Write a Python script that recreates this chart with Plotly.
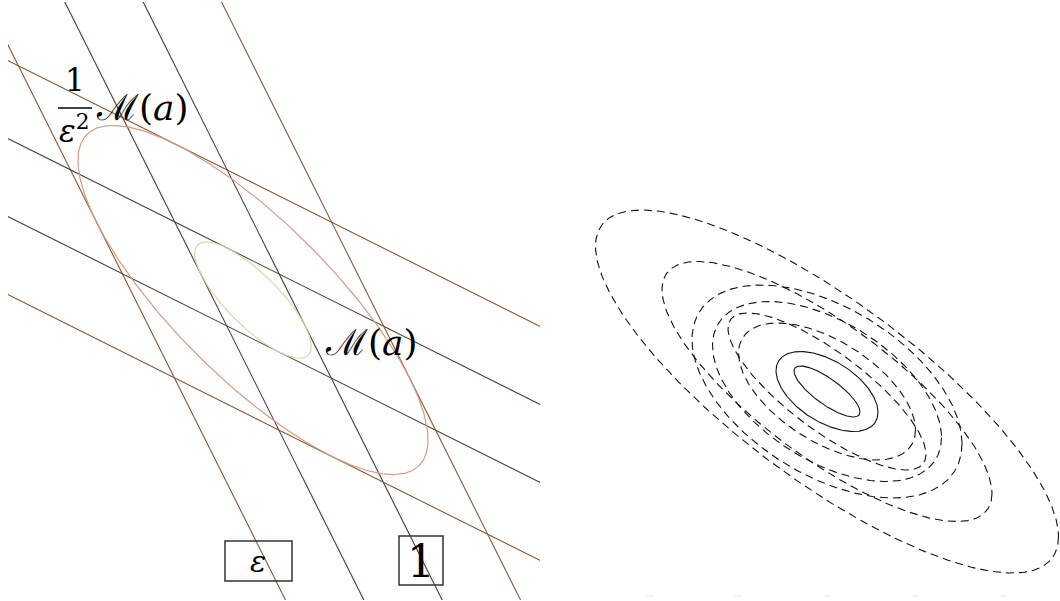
import numpy as np
import plotly.graph_objects as go

# ---------------- data (pixel-like units of the drawing) ----------------
# left panel: lattice of lines and inscribed ellipses
center_left = [253.0, 300.0]
edge_p = [156.7, 78.3]      # half-edge along the shallow direction
edge_q = [78.0, 156.0]      # half-edge along the steep direction
levels = [-1.0, -1/3, 1/3, 1.0]
level_colors = ["#8a5a36", "#4a3d37", "#4a3d37", "#8a5a36"]
ellipse_scales = [1.0, 1/3]
ellipse_colors = ["#d19c86", "#d8d8a8"]

# right panel: nested level curves
center_right = [827.0, 391.5]
half_w = [231.5, 165.0, 135.0, 114.5, 99.0, 88.5, 51.0, 33.0]
half_h = [181.5, 130.0, 106.5, 90.0, 78.5, 68.5, 40.0, 25.5]
tilt_cos = [0.80, 0.785, 0.49, 0.51, 0.80, 0.56, 0.52, 0.80]
curve_dash = ["8px,5px"] * 6 + ["solid"] * 2
faint_ticks_x = [650, 738, 827, 915, 1003]

# ---------------- figure ----------------
fig = go.Figure()
c = np.array(center_left)
p = np.array(edge_p)
q = np.array(edge_q)
s = np.array([-6.0, 6.0])

for lv, col in zip(levels, level_colors):
    # shallow line (constant q-level)
    pts = c[None, :] + s[:, None] * p[None, :] + lv * q[None, :]
    fig.add_trace(go.Scatter(x=pts[:, 0], y=pts[:, 1], mode="lines",
                             line=dict(color=col, width=1.1), xaxis="x", yaxis="y",
                             hoverinfo="skip", showlegend=False))
    # steep line (constant p-level)
    pts = c[None, :] + lv * p[None, :] + s[:, None] * q[None, :]
    fig.add_trace(go.Scatter(x=pts[:, 0], y=pts[:, 1], mode="lines",
                             line=dict(color=col, width=1.1), xaxis="x", yaxis="y",
                             hoverinfo="skip", showlegend=False))

t = np.linspace(0, 2 * np.pi, 400)
for sc, col in zip(ellipse_scales, ellipse_colors):
    ex = c[0] + sc * (p[0] * np.cos(t) + q[0] * np.sin(t))
    ey = c[1] + sc * (p[1] * np.cos(t) + q[1] * np.sin(t))
    fig.add_trace(go.Scatter(x=ex, y=ey, mode="lines", line=dict(color=col, width=1.2),
                             xaxis="x", yaxis="y", hoverinfo="skip", showlegend=False))

cr = np.array(center_right)
for X, Y, cd, dash in zip(half_w, half_h, tilt_cos, curve_dash):
    d = np.arccos(cd)
    ex = cr[0] + X * np.cos(t)
    ey = cr[1] + Y * np.cos(t - d)
    fig.add_trace(go.Scatter(x=ex, y=ey, mode="lines",
                             line=dict(color="#111111", width=1.1, dash=dash),
                             xaxis="x2", yaxis="y2", hoverinfo="skip", showlegend=False))

fig.add_trace(go.Scatter(x=faint_ticks_x, y=[596] * len(faint_ticks_x), mode="markers",
                         marker=dict(symbol="line-ew", size=5, line=dict(color="#e6e6e6", width=1)),
                         xaxis="x2", yaxis="y2", hoverinfo="skip", showlegend=False))

serif = "DejaVu Serif, Liberation Serif, serif"
ann = []
def add_text(x, y, text, size, xref="x", yref="y"):
    ann.append(dict(x=x, y=y, xref=xref, yref=yref, text=text, showarrow=False,
                    font=dict(family=serif, size=size, color="black"),
                    xanchor="center", yanchor="middle"))

add_text(75, 80, "1", 31)
add_text(74, 129, "<i>ε</i><sup>2</sup>", 31)
add_text(142, 107, "ℳ(<i>a</i>)", 36)
add_text(371, 342, "ℳ(<i>a</i>)", 36)
add_text(258, 561, "<i>ε</i>", 30)
add_text(421, 561, "1", 44)

shapes = [
    dict(type="line", xref="x", yref="y", x0=58, x1=92, y0=108, y1=108,
         line=dict(color="black", width=1.3)),
    dict(type="rect", xref="x", yref="y", x0=225, x1=292, y0=541, y1=581,
         line=dict(color="#333333", width=1.5)),
    dict(type="rect", xref="x", yref="y", x0=399, x1=443, y0=536, y1=585,
         line=dict(color="#333333", width=1.5)),
]

W, H = 1060, 601
ax_common = dict(visible=False, showgrid=False, zeroline=False, fixedrange=True)
fig.update_layout(
    width=W, height=H, margin=dict(l=0, r=0, t=0, b=0),
    paper_bgcolor="white", plot_bgcolor="rgba(0,0,0,0)",
    xaxis=dict(domain=[8 / W, 540 / W], range=[8, 540], **ax_common),
    yaxis=dict(domain=[1 / H, 599 / H], range=[600, 2], **ax_common),
    xaxis2=dict(domain=[560 / W, 1.0], range=[560, 1060], **ax_common),
    yaxis2=dict(domain=[1 / H, 599 / H], range=[600, 2], anchor="x2", **ax_common),
    annotations=ann, shapes=shapes, showlegend=False,
)
fig.write_html("out.html", config={"displayModeBar": False, "staticPlot": True},
               post_script="document.body.style.margin='0px';document.body.style.overflow='hidden';")
